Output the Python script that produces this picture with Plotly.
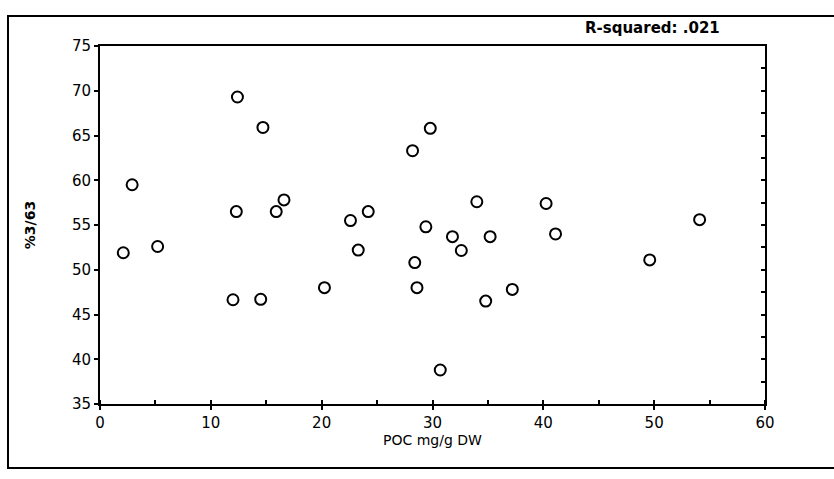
import plotly.graph_objects as go

# POC (mg/g dry weight) against the %3/63 ratio
poc = [2.1, 2.9, 5.2, 12.0, 12.3, 12.4, 14.5, 14.7, 15.9, 16.6,
       20.25, 22.6, 23.3, 24.2, 28.2, 28.4, 28.6, 29.4, 29.8, 30.7,
       31.8, 32.6, 34.0, 34.8, 35.2, 37.2, 40.25, 41.1, 49.6, 54.1]
ratio = [51.9, 59.5, 52.6, 46.65, 56.5, 69.3, 46.7, 65.9, 56.5, 57.8,
         48.0, 55.5, 52.2, 56.5, 63.3, 50.8, 48.0, 54.8, 65.8, 38.8,
         53.7, 52.15, 57.6, 46.5, 53.7, 47.8, 57.4, 54.0, 51.1, 55.6]

x_ticks = [0, 10, 20, 30, 40, 50, 60]
y_ticks = [35, 40, 45, 50, 55, 60, 65, 70, 75]
r_squared_label = "R-squared: .021"
x_title = "POC mg/g DW"
y_title = "%3/63"

W, H = 834, 479
L, R, T, B = 100, 69, 46, 75
pw, ph = W - L - R, H - T - B

fig = go.Figure(go.Scatter(
    x=poc, y=ratio, mode="markers",
    marker=dict(symbol="circle-open", size=11, color="black",
                line=dict(color="black", width=2)),
    hoverinfo="x+y", showlegend=False,
))

font = dict(family="DejaVu Sans", size=15, color="black")

fig.update_layout(
    width=W, height=H,
    margin=dict(l=L, r=R, t=T, b=B, pad=0),
    paper_bgcolor="white", plot_bgcolor="white",
    font=font,
    xaxis=dict(
        range=[0, 60], tickvals=x_ticks, ticktext=[str(v) for v in x_ticks],
        showgrid=False, zeroline=False,
        showline=True, linecolor="black", linewidth=2, mirror=True,
        ticks="outside", ticklen=4, tickwidth=1.5, tickcolor="black",
        minor=dict(dtick=5, ticks="inside", ticklen=4, tickwidth=1.5, tickcolor="black"),
        tickfont=font,
        title=dict(text=x_title, font=dict(family="DejaVu Sans", size=14, color="black"),
                   standoff=2),
    ),
    yaxis=dict(
        range=[35, 75], tickvals=y_ticks, ticktext=[str(v) for v in y_ticks],
        showgrid=False, zeroline=False,
        showline=True, linecolor="black", linewidth=2, mirror=True,
        ticks="outside", ticklen=4, tickwidth=1.5, tickcolor="black",
        tickfont=font,
        title=dict(text=y_title, font=dict(family="DejaVu Sans", size=14, color="black",
                                           weight="bold"), standoff=33),
    ),
    # right-hand axis carries the inward ticks every 2.5 units
    yaxis2=dict(
        overlaying="y", side="right", matches="y", range=[35, 75],
        showgrid=False, zeroline=False, showline=False, showticklabels=False,
        ticks="inside", ticklen=4, tickwidth=1.5, tickcolor="black",
        tickmode="linear", tick0=35, dtick=2.5,
    ),
)

# empty trace so the right-hand axis is drawn
fig.add_trace(go.Scatter(x=[None], y=[None], yaxis="y2", showlegend=False,
                         hoverinfo="skip"))

# outer frame around the whole graphic
fig.add_shape(type="rect", xref="paper", yref="paper",
              x0=(8 - L) / pw, x1=(840 - L) / pw,
              y0=(H - B - 468) / ph, y1=(H - B - 16) / ph,
              line=dict(color="black", width=2), fillcolor="rgba(0,0,0,0)")

fig.add_annotation(text=r_squared_label, xref="paper", yref="paper",
                   x=(583 - L) / pw, y=(H - B - 28) / ph,
                   xanchor="left", yanchor="middle", showarrow=False,
                   font=dict(family="DejaVu Sans", size=15, color="black", weight="bold"))

fig.write_html("out.html")
